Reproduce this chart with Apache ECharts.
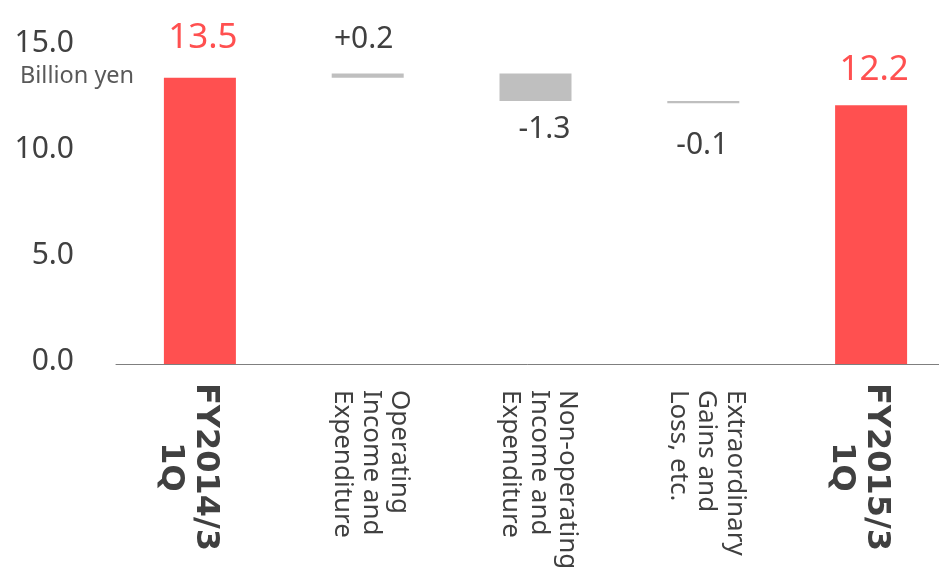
<!DOCTYPE html>
<html>
<head>
<meta charset="utf-8">
<script src="https://cdn.jsdelivr.net/npm/echarts@6/dist/echarts.min.js"></script>
<style>html,body{margin:0;padding:0;background:#fff;overflow:hidden}#c{width:939px;height:568px}</style>
</head>
<body>
<div id="c"></div>
<script>
const categories = ['FY2014/3\n1Q', 'Operating\nIncome and\nExpenditure', 'Non-operating\nIncome and\nExpenditure', 'Extraordinary\nGains and\nLoss, etc.', 'FY2015/3\n1Q'];
const startValue = 13.5;
const deltas = [0.2, -1.3, -0.1];
const endValue = 12.2;
const yTicks = [0, 5, 10, 15];
const unitLabel = 'Billion yen';

const RED = '#FF5050', GRAY = '#BFBFBF', TXT = '#404040';
const FONT = 'Noto Sans';

// build waterfall
const base = [], height = [], labelText = [], kinds = [];
base.push(0); height.push(startValue); labelText.push(startValue.toFixed(1)); kinds.push('total');
let running = startValue;
deltas.forEach(d => {
  if (d >= 0) { base.push(running); height.push(d); }
  else { base.push(running + d); height.push(-d); }
  labelText.push((d > 0 ? '+' : '') + d.toFixed(1));
  kinds.push(d >= 0 ? 'up' : 'down');
  running += d;
});
base.push(0); height.push(endValue); labelText.push(endValue.toFixed(1)); kinds.push('total');

const labelStyle = [
  {pos: 'top', dist: 22, off: [3, 0]},
  {pos: 'top', dist: 19, off: [-4, 0]},
  {pos: 'bottom', dist: 13, off: [9, 0]},
  {pos: 'bottom', dist: 27, off: [-1, 0]},
  {pos: 'top', dist: 18, off: [3, 0]}
];

const visData = height.map((h, i) => {
  const total = kinds[i] === 'total';
  const ls = labelStyle[i];
  return {
    value: h,
    itemStyle: {color: total ? RED : GRAY},
    label: {
      show: true,
      position: ls.pos,
      distance: ls.dist,
      offset: ls.off,
      formatter: labelText[i],
      color: total ? RED : TXT,
      fontSize: total ? 35 : 30,
      fontFamily: FONT
    }
  };
});

const chart = echarts.init(document.getElementById('c'));
chart.setOption({
  animation: false,
  grid: {left: 116, right: -16, top: 46, bottom: 204, containLabel: false, outerBoundsMode: 'none'},
  xAxis: {
    type: 'category',
    data: categories,
    axisTick: {show: false},
    axisLine: {lineStyle: {color: '#7F7F7F', width: 1}},
    axisLabel: {
      interval: 0,
      rotate: -90,
      margin: 19,
      color: TXT,
      fontFamily: FONT,
      hideOverlap: false,
      formatter: (v, i) => {
        const bold = (i === 0 || i === categories.length - 1);
        const lines = v.split('\n').map(s => bold ? `{b|${s}}` : `{n|${s}}`);
        if (bold) return ['{sb| }'].concat(lines).join('\n');
        return lines.concat(['{sn| }']).join('\n');
      },
      rich: {
        b: {fontFamily: 'DejaVu Sans', fontWeight: 'bold', fontSize: 32, lineHeight: 35, align: 'center', color: TXT},
        n: {fontFamily: FONT, fontSize: 26, lineHeight: 28.5, color: TXT, padding: [0, 0, 0, 7]},
        sb: {fontSize: 1, lineHeight: 24},
        sn: {fontSize: 1, lineHeight: 7}
      }
    }
  },
  yAxis: {
    type: 'value',
    min: yTicks[0],
    max: yTicks[yTicks.length - 1],
    interval: yTicks[1] - yTicks[0],
    axisLine: {show: false},
    axisTick: {show: false},
    splitLine: {show: false},
    axisLabel: {
      margin: 42,
      color: TXT,
      fontFamily: FONT,
      fontSize: 30,
      formatter: v => `{y|${v.toFixed(1)}}`,
      rich: {
        y: {fontFamily: FONT, fontSize: 30, lineHeight: 30, color: TXT, padding: [0, 0, 6, 0]}
      }
    }
  },
  graphic: [{
    type: 'text',
    left: 20,
    top: 64,
    style: {text: unitLabel, fontFamily: FONT, fontSize: 23.5, fill: '#595959'}
  }],
  series: [
    {type: 'bar', stack: 'w', data: base, barWidth: 72, itemStyle: {color: 'transparent'}, silent: true},
    {type: 'bar', stack: 'w', data: visData, barWidth: 72}
  ]
});
</script>
</body>
</html>
